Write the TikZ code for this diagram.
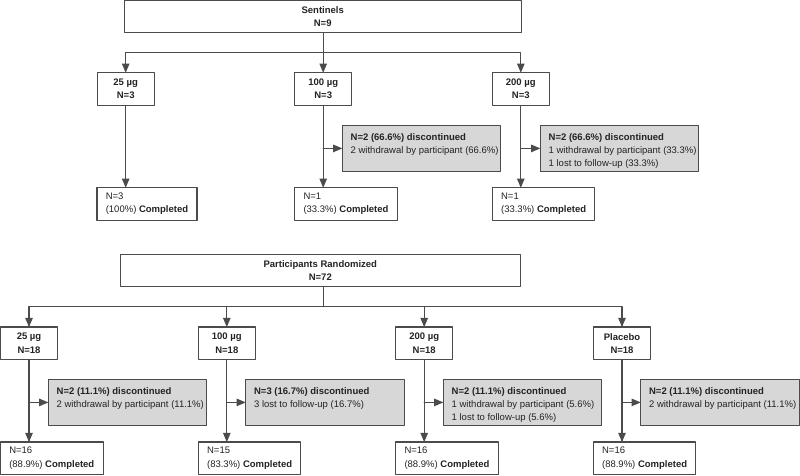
\documentclass[tikz,border=0pt]{standalone}
\usepackage{fontspec}
\setmainfont{Liberation Sans}
\usepackage{tikz}
\usetikzlibrary{arrows}
\usetikzlibrary{calc}

\definecolor{boxgray}{RGB}{75,75,75}
\definecolor{discgray}{RGB}{215,215,215}
\definecolor{txtgray}{RGB}{35,35,35}
\newcommand{\flowfont}{\fontsize{9.5pt}{13.3pt}\selectfont}
\newcommand{\disctext}[1]{\parbox[c][35pt][t]{141.7pt}{\begin{tabular}{@{}l@{}}#1\end{tabular}}}

\begin{document}
\begin{tikzpicture}[x=1pt,y=-1pt,line cap=round,line join=round,>=triangle 45,
  box/.style={draw=boxgray,line width=1.1pt,outer sep=0pt,text=txtgray},
  hdr/.style={box,align=center,minimum height=32pt,font=\flowfont\bfseries},
  grp/.style={box,align=center,minimum width=57.3pt,minimum height=32.6pt,font=\flowfont\bfseries},
  disc/.style={box,fill=discgray,anchor=north west,inner xsep=8.4pt,inner ysep=5.6pt,font=\flowfont},
  done/.style={box,anchor=north west,align=left,inner xsep=8.8pt,minimum height=32.6pt,font=\flowfont},
  conn/.style={draw=boxgray,line width=1.1pt}]
\useasboundingbox (0,0) rectangle (800,475);

% sentinels
\node[hdr,minimum width=396.7pt] (sent) at (322.7,16.7) {Sentinels\\N=9};
\coordinate (sbar) at (323.2,52.3);
\node[grp] (s25) at (125.7,89) {25 µg\\N=3};
\node[grp] (s100) at (323.2,89) {100 µg\\N=3};
\node[grp] (s200) at (520.8,89) {200 µg\\N=3};
\node[disc] (s100d) at (342.3,125.3) {\disctext{\textbf{N=2 (66.6\%) discontinued}\\2 withdrawal by participant (66.6\%)}};
\node[disc] (s200d) at (540.3,125.3) {\disctext{\textbf{N=2 (66.6\%) discontinued}\\1 withdrawal by participant (33.3\%)\\1 lost to follow-up (33.3\%)}};
\node[done] (s25c) at (97,187.7) {N=3\\(100\%) \textbf{Completed}};
\node[done] (s100c) at (294.7,187.7) {N=1\\(33.3\%) \textbf{Completed}};
\node[done] (s200c) at (492.3,187.7) {N=1\\(33.3\%) \textbf{Completed}};

\draw[conn] (sent.south -| sbar) -- (sbar);
\draw[conn,->] (sbar) -| (s25.north);
\draw[conn,->] (sbar) -| (s200.north);
\draw[conn,->] (sbar) -- (s100.north);
\foreach \g in {s25,s100,s200}
  \draw[conn,->] (\g.south) -- (\g.south |- \g c.north);
\foreach \g in {s100,s200}
  \draw[conn,->] (\g.south |- \g d.west) -- (\g d.west);

% randomized
\node[hdr,minimum width=400pt] (rand) at (320.3,270.3) {Participants Randomized\\N=72};
\coordinate (rbar) at (323.3,306.7);
\node[grp] (r25) at (29,343.3) {25 µg\\N=18};
\node[grp] (r100) at (226.8,343.3) {100 µg\\N=18};
\node[grp] (r200) at (424.2,343.3) {200 µg\\N=18};
\node[grp] (rpl) at (622,343.3) {Placebo\\N=18};
\node[disc] (r25d) at (48.3,379.3) {\disctext{\textbf{N=2 (11.1\%) discontinued}\\2 withdrawal by participant (11.1\%)}};
\node[disc] (r100d) at (245.7,379.3) {\disctext{\textbf{N=3 (16.7\%) discontinued}\\3 lost to follow-up (16.7\%)}};
\node[disc] (r200d) at (443.3,379.3) {\disctext{\textbf{N=2 (11.1\%) discontinued}\\1 withdrawal by participant (5.6\%)\\1 lost to follow-up (5.6\%)}};
\node[disc] (rpld) at (640.7,379.3) {\disctext{\textbf{N=2 (11.1\%) discontinued}\\2 withdrawal by participant (11.1\%)}};
\node[done] (r25c) at (0.5,442) {N=16\\(88.9\%) \textbf{Completed}};
\node[done] (r100c) at (198.3,442) {N=15\\(83.3\%) \textbf{Completed}};
\node[done] (r200c) at (395.7,442) {N=16\\(88.9\%) \textbf{Completed}};
\node[done] (rplc) at (593.3,442) {N=16\\(88.9\%) \textbf{Completed}};

\draw[conn] (rand.south -| rbar) -- (rbar);
\draw[conn,->] (rbar) -| (r25.north);
\draw[conn,->] (rbar) -| (r100.north);
\draw[conn,->] (rbar) -| (r200.north);
\draw[conn,->] (rbar) -| (rpl.north);
\foreach \g in {r25,r100,r200,rpl}{
  \draw[conn,->] (\g.south) -- (\g.south |- \g c.north);
  \draw[conn,->] (\g.south |- \g d.west) -- (\g d.west);
}
\end{tikzpicture}
\end{document}
